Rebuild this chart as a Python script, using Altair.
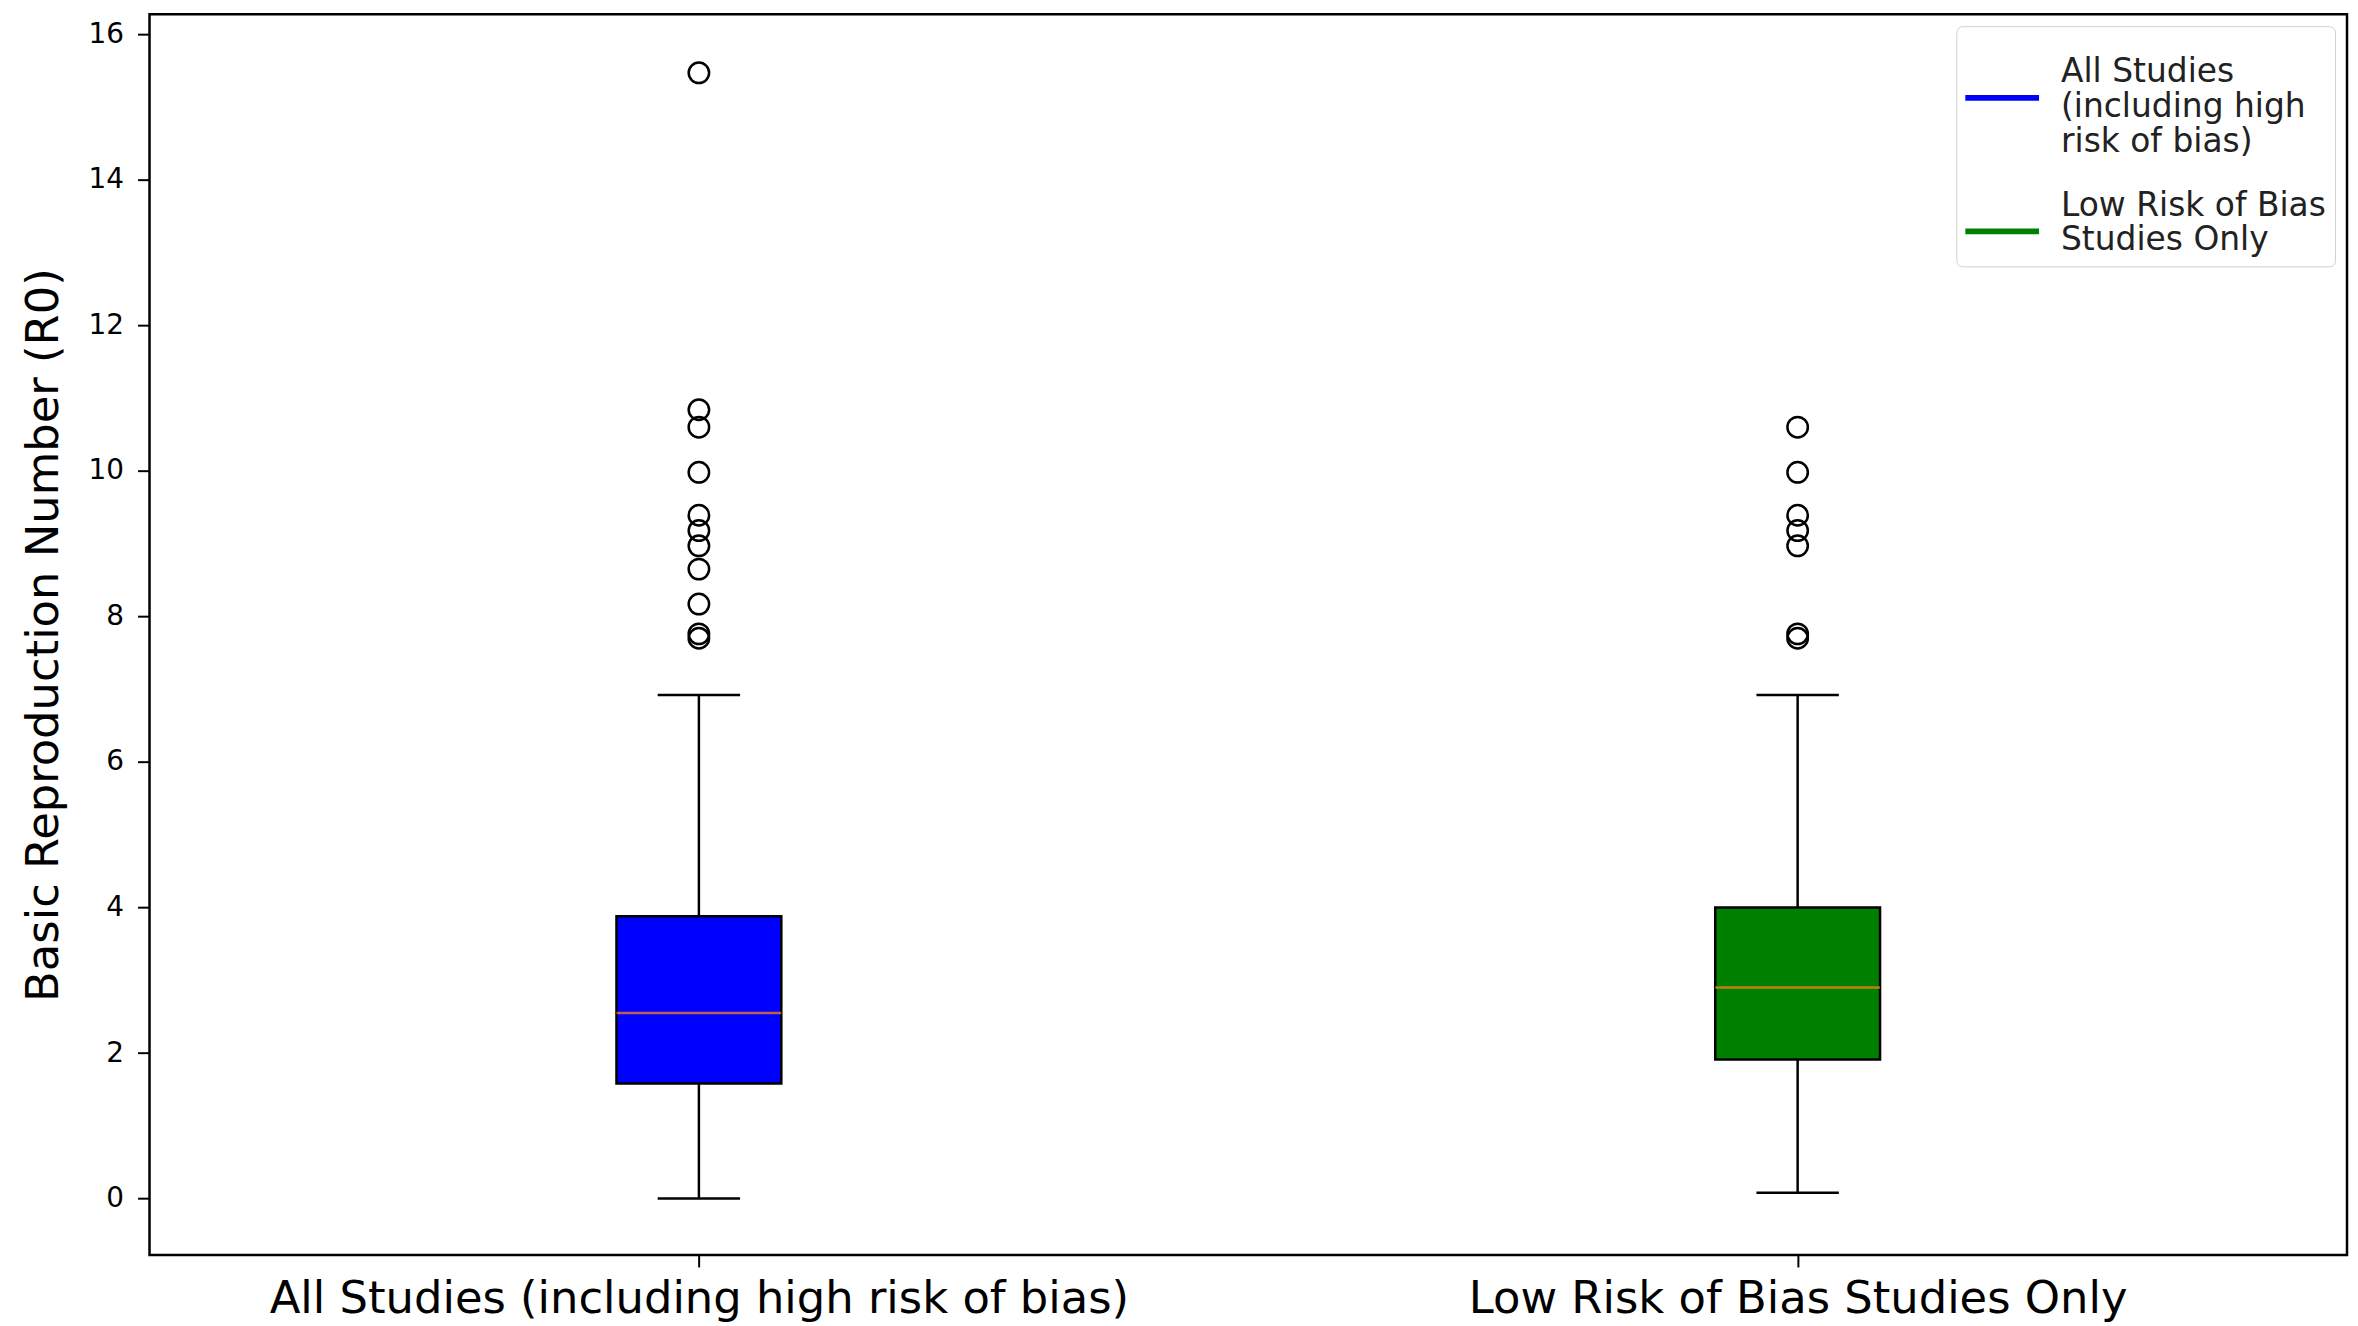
import json
import altair as alt
import pandas as pd

# ---------------- data ----------------
categories = ["All Studies (including high risk of bias)", "Low Risk of Bias Studies Only"]
legend_lines = [
    ["All Studies", "\u00a0(including high", "\u00a0risk of bias)"],
    ["Low Risk of Bias", "\u00a0Studies Only"],
]
box_colors = ["#0000ff", "#008000"]

q1 = [1.58, 1.91]
median = [2.55, 2.90]
q3 = [3.88, 4.00]
whisker_low = [0.0, 0.08]
whisker_high = [6.92, 6.92]

outliers_all = [15.47, 10.84, 10.60, 9.98, 9.39, 9.18, 8.97, 8.65, 8.17, 7.76, 7.70]
outliers_low = [10.60, 9.98, 9.39, 9.18, 8.97, 7.76, 7.70]

y_ticks = [0, 2, 4, 6, 8, 10, 12, 14, 16]

# ---------------- tables ----------------
stats = pd.DataFrame({
    "cat": categories,
    "pos": [i + 1 for i in range(len(categories))],
    "q1": q1,
    "med": median,
    "q3": q3,
    "wlo": whisker_low,
    "whi": whisker_high,
})
outs = pd.DataFrame(
    [{"cat": categories[0], "pos": 1, "v": v} for v in outliers_all]
    + [{"cat": categories[1], "pos": 2, "v": v} for v in outliers_low]
)

FONT = "DejaVu Sans"
half_box = 0.075
half_cap = 0.0375

xs = alt.Scale(domain=[0.5, 2.5], nice=False, zero=False)
ys = alt.Scale(domain=[-0.775, 16.275], nice=False, zero=False)

x_label_expr = " : ".join(
    [f"datum.value == {i + 1} ? {json.dumps(c)}" for i, c in enumerate(categories[:-1])]
    + [json.dumps(categories[-1])]
)
legend_label_expr = " : ".join(
    [f"datum.label == {json.dumps(c)} ? {json.dumps(l, ensure_ascii=False)}"
     for c, l in zip(categories[:-1], legend_lines[:-1])]
    + [json.dumps(legend_lines[-1], ensure_ascii=False)]
)

x_axis = alt.Axis(
    values=[1, 2], labelExpr=x_label_expr, title=None, grid=False, domain=False,
    tickSize=12, tickWidth=2, tickColor="black", labelFontSize=45, labelFont=FONT,
    labelColor="black", labelPadding=10, labelLimit=2000,
)
y_axis = alt.Axis(
    values=y_ticks, format="d", title="Basic Reproduction Number (R0)", grid=False, domain=False,
    tickSize=12, tickWidth=2, tickColor="black", labelFontSize=28, labelFont=FONT,
    labelColor="black", labelPadding=14, titleFontSize=45, titleFont=FONT,
    titleFontWeight="normal", titleColor="black", titlePadding=22,
)


def build(line_height):
    legend_kw = dict(
        title=None, orient="top-right", offset=12,
        # thick horizontal bar, lowered to sit near the middle of the wrapped labels
        symbolType="M-1,0.62H1V0.78H-1Z", symbolSize=5476, symbolStrokeWidth=0,
        symbolOpacity=1, labelExpr=legend_label_expr,
        labelFontSize=33, labelFont=FONT,
        labelColor="#222222", labelLimit=2000, labelOffset=22, rowPadding=10,
        padding=9, fillColor="white", strokeColor="#d0d0d0", cornerRadius=6,
    )
    if line_height:
        legend_kw["labelLineHeight"] = 39

    base = alt.Chart(stats).transform_calculate(
        lo=f"datum.pos - {half_box}", hi=f"datum.pos + {half_box}",
        clo=f"datum.pos - {half_cap}", chi=f"datum.pos + {half_cap}",
    )
    whisk_lo = base.mark_rule(color="black", strokeWidth=2.5).encode(
        x=alt.X("pos:Q", scale=xs, axis=x_axis),
        y=alt.Y("wlo:Q", scale=ys, axis=y_axis),
        y2="q1:Q",
    )
    whisk_hi = base.mark_rule(color="black", strokeWidth=2.5).encode(
        x=alt.X("pos:Q", scale=xs), y=alt.Y("q3:Q", scale=ys), y2="whi:Q",
    )
    cap_lo = base.mark_rule(color="black", strokeWidth=2.5).encode(
        x=alt.X("clo:Q", scale=xs), x2="chi:Q", y=alt.Y("wlo:Q", scale=ys),
    )
    cap_hi = base.mark_rule(color="black", strokeWidth=2.5).encode(
        x=alt.X("clo:Q", scale=xs), x2="chi:Q", y=alt.Y("whi:Q", scale=ys),
    )
    box = base.mark_rect().encode(
        x=alt.X("lo:Q", scale=xs), x2="hi:Q",
        y=alt.Y("q1:Q", scale=ys), y2="q3:Q",
        color=alt.Color(
            "cat:N", scale=alt.Scale(domain=categories, range=box_colors),
            legend=alt.Legend(**legend_kw),
        ),
    )
    box_outline = base.mark_rect(fillOpacity=0, stroke="black", strokeWidth=2.5).encode(
        x=alt.X("lo:Q", scale=xs), x2="hi:Q",
        y=alt.Y("q1:Q", scale=ys), y2="q3:Q",
    )
    med = base.mark_rule(color="#ff7f0e", strokeWidth=2.5, opacity=0.75).encode(
        x=alt.X("lo:Q", scale=xs), x2="hi:Q", y=alt.Y("med:Q", scale=ys),
    )
    points = alt.Chart(outs).mark_point(
        shape="circle", filled=False, color="black", size=420, strokeWidth=2.5, opacity=1,
    ).encode(
        x=alt.X("pos:Q", scale=xs), y=alt.Y("v:Q", scale=ys),
    )
    return alt.layer(
        whisk_lo, whisk_hi, cap_lo, cap_hi, box, box_outline, med, points
    ).properties(
        width=2205, height=1245,
        autosize=alt.AutoSizeParams(type="none"),
        padding={"left": 142, "top": 4, "right": 3, "bottom": 66},
        background="white",
    ).configure_view(
        stroke="black", strokeWidth=2.5,
    )


try:
    chart = build(True)
    chart.to_dict()
except Exception:
    chart = build(False)

chart.save("out.html", embed_options={"renderer": "svg", "actions": False})
